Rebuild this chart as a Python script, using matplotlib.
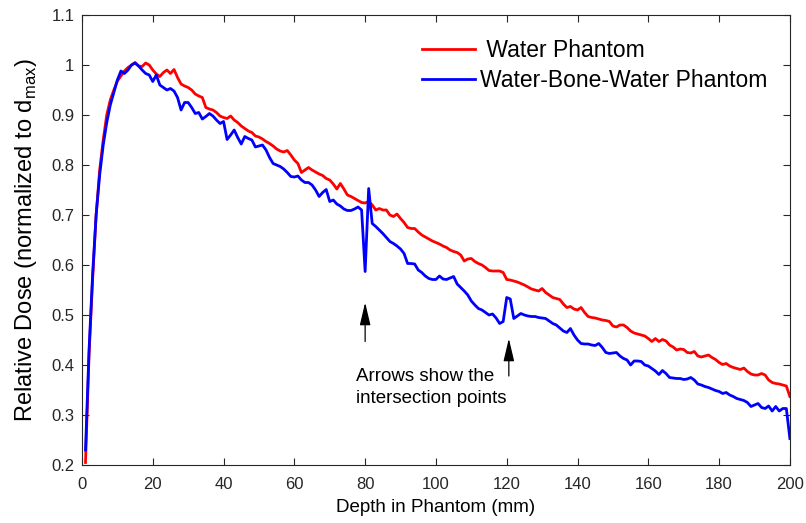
import numpy as np
import matplotlib.pyplot as plt

plt.rcParams['font.family'] = ['Liberation Sans', 'DejaVu Sans']
plt.rcParams['mathtext.fontset'] = 'custom'
plt.rcParams['mathtext.rm'] = 'Liberation Sans'

# depth grid (mm)
depth = np.arange(1, 201)

# relative dose, water phantom
water = [
    0.205, 0.42, 0.57, 0.70, 0.79, 0.85, 0.90, 0.93, 0.95, 0.968,
    0.978, 0.988, 0.995, 1.0, 1.005, 0.998, 0.997, 1.004, 1.0, 0.99,
    0.982, 0.977, 0.985, 0.99, 0.983, 0.991, 0.975, 0.962, 0.958, 0.955,
    0.95, 0.942, 0.938, 0.935, 0.915, 0.912, 0.91, 0.905, 0.898, 0.895,
    0.893, 0.898, 0.89, 0.885, 0.878, 0.873, 0.868, 0.865, 0.858, 0.856,
    0.852, 0.847, 0.843, 0.838, 0.832, 0.828, 0.826, 0.829, 0.82, 0.81,
    0.803, 0.785, 0.79, 0.795, 0.79, 0.786, 0.782, 0.779, 0.773, 0.77,
    0.762, 0.752, 0.763, 0.752, 0.74, 0.737, 0.733, 0.729, 0.725, 0.724,
    0.727, 0.72, 0.71, 0.713, 0.71, 0.71, 0.70, 0.697, 0.702, 0.693,
    0.685, 0.675, 0.673, 0.673, 0.666, 0.66, 0.656, 0.652, 0.648, 0.645,
    0.642, 0.638, 0.635, 0.63, 0.627, 0.625, 0.62, 0.608, 0.612, 0.613,
    0.607, 0.603, 0.60, 0.595, 0.589, 0.588, 0.588, 0.588, 0.585, 0.571,
    0.57, 0.568, 0.566, 0.563, 0.56, 0.556, 0.552, 0.55, 0.548, 0.553,
    0.545, 0.54, 0.535, 0.533, 0.531, 0.522, 0.515, 0.517, 0.512, 0.51,
    0.515, 0.505, 0.497, 0.495, 0.494, 0.492, 0.49, 0.489, 0.487, 0.478,
    0.476, 0.48, 0.48, 0.475, 0.468, 0.464, 0.462, 0.46, 0.458, 0.453,
    0.447, 0.453, 0.447, 0.451, 0.448, 0.44, 0.436, 0.43, 0.432, 0.431,
    0.425, 0.424, 0.427, 0.418, 0.416, 0.418, 0.42, 0.415, 0.411, 0.405,
    0.401, 0.403, 0.398, 0.395, 0.393, 0.391, 0.394, 0.387, 0.382, 0.38,
    0.38, 0.383, 0.38, 0.37, 0.365, 0.363, 0.362, 0.36, 0.358, 0.337,
]

# relative dose, water-bone-water phantom
wbw = [
    0.23, 0.43, 0.58, 0.70, 0.78, 0.84, 0.885, 0.92, 0.945, 0.97,
    0.988, 0.983, 0.99, 1.0, 1.004, 0.998, 0.99, 0.983, 0.98, 0.967,
    0.98, 0.96, 0.955, 0.95, 0.953, 0.948, 0.935, 0.91, 0.925, 0.925,
    0.915, 0.903, 0.905, 0.892, 0.897, 0.903, 0.898, 0.89, 0.883, 0.887,
    0.851, 0.86, 0.87, 0.855, 0.842, 0.857, 0.853, 0.85, 0.836, 0.838,
    0.84, 0.83, 0.815, 0.803, 0.80, 0.797, 0.792, 0.785, 0.777, 0.776,
    0.778, 0.77, 0.765, 0.765, 0.76, 0.75, 0.737, 0.745, 0.751, 0.727,
    0.73, 0.722, 0.718, 0.712, 0.709, 0.709, 0.712, 0.716, 0.71, 0.587,
    0.753, 0.683, 0.677, 0.67, 0.663, 0.655, 0.647, 0.643, 0.638, 0.632,
    0.623, 0.603, 0.603, 0.602, 0.59, 0.585, 0.578, 0.573, 0.571, 0.571,
    0.578, 0.572, 0.571, 0.574, 0.577, 0.562, 0.555, 0.548, 0.54, 0.528,
    0.52, 0.513, 0.51, 0.505, 0.50, 0.502, 0.494, 0.483, 0.487, 0.535,
    0.532, 0.493, 0.498, 0.503, 0.50, 0.498, 0.497, 0.497, 0.495, 0.494,
    0.493, 0.488, 0.483, 0.48, 0.474, 0.468, 0.465, 0.473, 0.46, 0.45,
    0.443, 0.442, 0.442, 0.44, 0.439, 0.443, 0.435, 0.425, 0.423, 0.424,
    0.425, 0.418, 0.413, 0.41, 0.40, 0.408, 0.408, 0.407, 0.40, 0.398,
    0.393, 0.388, 0.381, 0.389, 0.383, 0.375, 0.374, 0.373, 0.373, 0.371,
    0.372, 0.375, 0.37, 0.362, 0.36, 0.357, 0.355, 0.352, 0.349, 0.347,
    0.343, 0.345, 0.34, 0.337, 0.333, 0.331, 0.329, 0.325, 0.317, 0.32,
    0.323, 0.315, 0.313, 0.318, 0.308, 0.317, 0.308, 0.313, 0.313, 0.253,
]

# intersection points marked with arrows: (x, y_tail, y_head)
arrows = [(80, 0.447, 0.525), (120.6, 0.378, 0.453)]

fig = plt.figure(figsize=(8.06, 5.23), dpi=100)
ax = fig.add_axes([0.1017, 0.1109, 0.8783, 0.8604])

ax.plot(depth, water, color='#ff0000', lw=2, label=' Water Phantom')
ax.plot(depth, wbw, color='#0000ff', lw=2, label='Water-Bone-Water Phantom')

for x, y0, y1 in arrows:
    ax.annotate('', xy=(x, y1), xytext=(x, y0),
                arrowprops=dict(arrowstyle='-|>,head_length=1.4,head_width=0.33',
                                mutation_scale=10, color='k', lw=0.9,
                                shrinkA=0, shrinkB=0))
ax.text(77.5, 0.355, 'Arrows show the\nintersection points', fontsize=13.5,
        va='center', ha='left', linespacing=1.45)

ax.set_xlim(0, 200)
ax.set_ylim(0.2, 1.1)
ax.set_xticks(np.arange(0, 201, 20))
ax.set_yticks(np.arange(0.2, 1.101, 0.1))
ax.set_yticklabels(['0.2', '0.3', '0.4', '0.5', '0.6', '0.7', '0.8', '0.9', '1', '1.1'])
ax.tick_params(direction='in', top=True, right=True, labelsize=12,
               colors='#262626', length=5, width=0.8)
ax.tick_params(axis='x', pad=9)
ax.tick_params(axis='y', pad=5.5)
for s in ax.spines.values():
    s.set_color('#262626')
    s.set_linewidth(0.8)

ax.set_xlabel('Depth in Phantom (mm)', fontsize=13.5, labelpad=5)
ax.set_ylabel('Relative Dose (normalized to d$_{\\mathrm{max}}$)', fontsize=17,
              labelpad=9)

ax.legend(loc='upper right', bbox_to_anchor=(0.997, 0.993), frameon=False,
          fontsize=16.5, handlelength=2.3, handletextpad=0.2, labelspacing=0.3)

fig.savefig('out.png', dpi=100)
